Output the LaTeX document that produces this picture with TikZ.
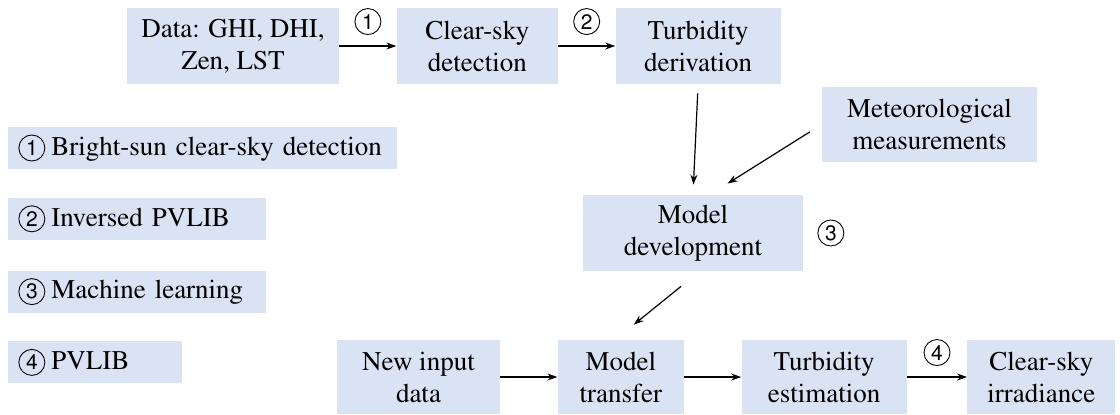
\documentclass[tikz,border=0pt]{standalone}
\usepackage[T1]{fontenc}
\renewcommand{\rmdefault}{ptm}
\renewcommand{\sfdefault}{phv}
\usetikzlibrary{positioning,arrows.meta}
\definecolor{boxblue}{HTML}{DAE3F3}
\tikzset{circ/.style={draw,circle,fill=none,line width=0.45pt,minimum size=13pt,inner sep=0pt,
  font=\sffamily\fontsize{10.5}{10.5}\selectfont}}
\newcommand{\cnum}[1]{\tikz[baseline=(cn.base)]\node[circ] (cn) {#1};\hspace{3pt}}
\begin{document}
\begin{tikzpicture}[x=0.5pt,y=-0.5pt,
  font=\rmfamily\fontsize{13.5}{16}\selectfont,
  box/.style={fill=boxblue,align=center,inner sep=0pt,minimum height=38pt},
  keybox/.style={fill=boxblue,align=left,inner xsep=5pt,inner ysep=0pt,minimum height=21pt},
  arr/.style={-{Stealth[length=5pt,width=3.5pt]},line width=0.6pt},
  node distance=28.5pt]
\useasboundingbox (0,0) rectangle (1120,414);
% top row
\node[box,minimum width=106pt] (data) at (233,46) {Data: GHI, DHI,\\Zen, LST};
\node[box,minimum width=80.5pt,right=of data] (clear) {Clear-sky\\detection};
\node[box,minimum width=82.5pt,right=of clear] (turbd) {Turbidity\\derivation};
\node[box,minimum width=107.5pt,minimum height=37.5pt] (meteo) at (929.5,124.5) {Meteorological\\measurements};
\node[box,minimum width=110pt] (modeldev) at (693,233) {Model\\development};
\node[circ,right=7pt of modeldev] (m3) {3};
% bottom row
\node[box,minimum width=81.5pt,minimum height=37pt] (newin) at (418.5,377) {New input\\data};
\node[box,minimum width=63pt,minimum height=37pt,right=of newin] (mtrans) {Model\\transfer};
\node[box,minimum width=82.5pt,minimum height=37pt,right=of mtrans] (turbe) {Turbidity\\estimation};
\node[box,minimum width=74pt,minimum height=37pt,right=30pt of turbe] (clearirr) {Clear-sky\\irradiance};
% key
\node[keybox,text width=184.5pt,anchor=west] (k1) at (8,148) {\cnum{1}Bright-sun clear-sky detection};
\node[keybox,text width=119pt,below=14pt of k1.south west,anchor=north west] (k2) {\cnum{2}Inversed PVLIB};
\node[keybox,text width=119pt,below=15pt of k2.south west,anchor=north west] (k3) {\cnum{3}Machine learning};
\node[keybox,text width=77pt,below=14pt of k3.south west,anchor=north west] (k4) {\cnum{4}PVLIB};
% arrows
\draw[arr] (data) -- node[circ,above=5.5pt] (a1) {1} (clear);
\draw[arr] (clear) -- node[circ,above=5.5pt] (a2) {2} (turbd);
\draw[arr,shorten <=4.5pt,shorten >=5pt] (turbd.south) -- (modeldev.north);
\draw[arr,shorten <=7pt,shorten >=10.4pt] (meteo.west) -- ([xshift=8.5pt]modeldev.north);
\draw[arr,shorten <=11.9pt,shorten >=11.9pt] ([xshift=3.25pt]modeldev.south) -- ([xshift=-2.75pt]mtrans.north);
\draw[arr] (newin) -- (mtrans);
\draw[arr] (mtrans) -- (turbe);
\draw[arr] (turbe) -- node[circ,above=5.5pt] (a4) {4} (clearirr);
\end{tikzpicture}
\end{document}
